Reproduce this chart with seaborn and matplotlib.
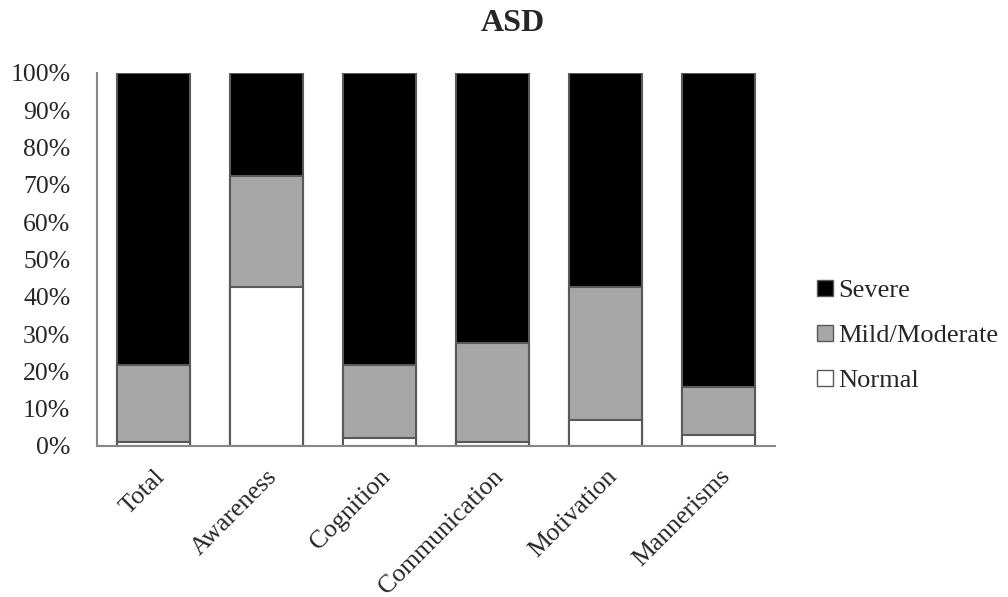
import matplotlib
matplotlib.use("Agg")
import matplotlib.pyplot as plt
import seaborn as sns
import pandas as pd
import numpy as np
from matplotlib.patches import Patch

categories = ["Total", "Awareness", "Cognition", "Communication", "Motivation", "Mannerisms"]
normal = [1.0, 42.6, 2.0, 1.0, 7.0, 3.0]
mild = [20.8, 29.7, 19.8, 26.7, 35.6, 12.8]
severe = [78.2, 27.7, 78.2, 72.3, 57.4, 84.2]

sns.set_theme(style="white")
plt.rcParams["font.family"] = ["Liberation Serif", "DejaVu Serif"]

df = pd.DataFrame({"category": categories, "Normal": normal,
                   "Mild/Moderate": mild, "Severe": severe})
df["top_normal"] = df["Normal"]
df["top_mild"] = df["Normal"] + df["Mild/Moderate"]
df["top_severe"] = df["top_mild"] + df["Severe"]

fig = plt.figure(figsize=(10.08, 5.97), dpi=100)
ax = fig.add_axes([0.096, 0.253, 0.673, 0.625])

edge = "#595959"
layers = [("top_severe", "#000000"), ("top_mild", "#a6a6a6"), ("top_normal", "#ffffff")]
for col, color in layers:
    sns.barplot(data=df, x="category", y=col, color=color, width=0.646,
                edgecolor=edge, linewidth=1.5, saturation=1, ax=ax, errorbar=None)

tick_fs = 18.5
ax.set_ylim(0, 100)
ax.set_xlim(-0.5, len(categories) - 0.5)
ax.set_yticks(np.arange(0, 101, 10))
ax.set_yticklabels([f"{v}%" for v in range(0, 101, 10)], fontsize=tick_fs)
ax.set_xticks(range(len(categories)))
ax.set_xticklabels(categories, rotation=45, ha="right", rotation_mode="anchor", fontsize=tick_fs)
ax.tick_params(axis="y", length=0, pad=19)
ax.tick_params(axis="x", length=0, pad=14)
ax.set_xlabel("")
ax.set_ylabel("")

for side in ["top", "right"]:
    ax.spines[side].set_visible(False)
for side in ["left", "bottom"]:
    ax.spines[side].set_color("#868686")
    ax.spines[side].set_linewidth(1.5)

fig.text(0.509, 0.961, "ASD", fontsize=23, fontweight="bold", ha="center", va="center")

handles = [Patch(facecolor="#000000", edgecolor=edge, label="Severe"),
           Patch(facecolor="#a6a6a6", edgecolor=edge, label="Mild/Moderate"),
           Patch(facecolor="#ffffff", edgecolor=edge, label="Normal")]
fig.legend(handles=handles, loc="center left", bbox_to_anchor=(0.811, 0.437),
           frameon=False, fontsize=19, handlelength=0.57, handleheight=0.57,
           handletextpad=0.2, labelspacing=0.86, borderaxespad=0, borderpad=0)

fig.savefig("out.png", dpi=100)
